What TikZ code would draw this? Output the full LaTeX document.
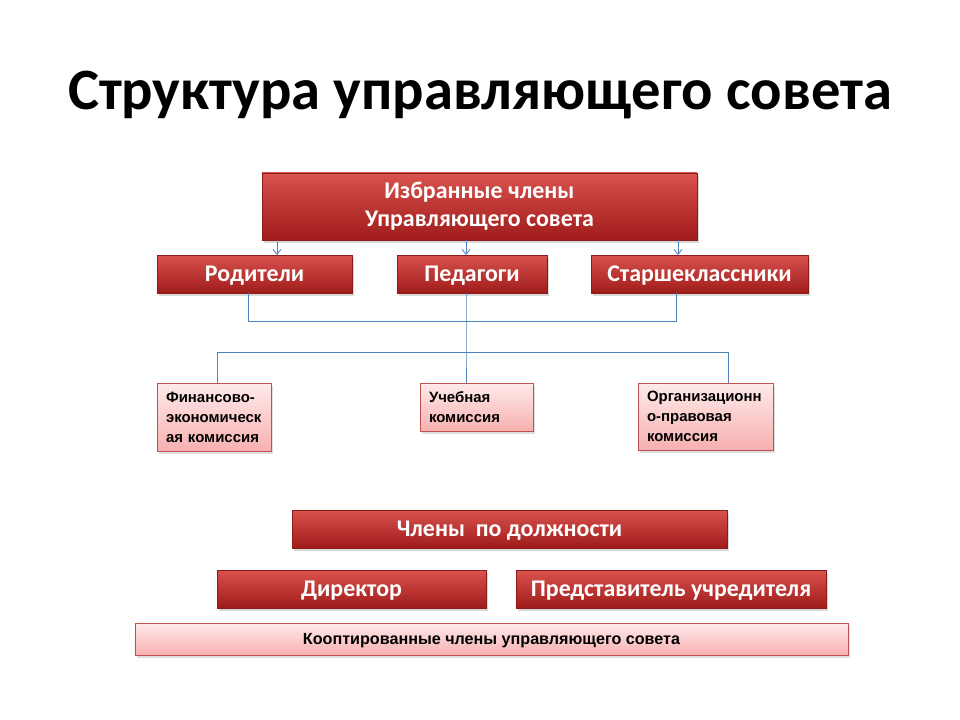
\documentclass[tikz,border=0pt]{standalone}
\usepackage{fontspec}
\setmainfont{Carlito}
\newfontfamily\smallfont{Liberation Sans}
\usetikzlibrary{shadows,arrows.meta}
\definecolor{redtop}{RGB}{216,82,78}
\definecolor{redmid}{RGB}{194,46,42}
\definecolor{redbot}{RGB}{160,28,26}
\definecolor{redline}{RGB}{140,28,26}
\definecolor{pinktop}{RGB}{255,234,234}
\definecolor{pinkbot}{RGB}{247,176,176}
\definecolor{pinkline}{RGB}{192,80,77}
\definecolor{linkblue}{RGB}{79,129,189}
\tikzset{
  redbox/.style={draw=redline, line width=0.6bp, top color=redtop, middle color=redmid, bottom color=redbot,
    text=white, inner sep=0pt, font=\fontsize{24}{28}\selectfont\bfseries,
    drop shadow={shadow xshift=2bp, shadow yshift=-3bp, opacity=0.3}},
  oneline/.style={text height=15.5bp, text depth=0bp},
  pinkbox/.style={draw=pinkline, line width=0.6bp, top color=pinktop, bottom color=pinkbot,
    text=black, inner sep=0pt,
    drop shadow={shadow xshift=2bp, shadow yshift=-3bp, opacity=0.25}},
  smalltext/.style={font=\smallfont\fontsize{15}{20}\selectfont\bfseries, align=left},
  link/.style={draw=linkblue, line width=0.8bp},
  arr/.style={link, -{Straight Barb[length=5bp, width=8bp]}}
}
\begin{document}
\begin{tikzpicture}[x=1bp, y=-1bp]
		%%%%% START %%%%%
		\useasboundingbox[fill=white] (0,0) rectangle (960,720);
		
		\node (title) at (480,95) {\fontsize{58.8}{62}\selectfont\bfseries Структура управляющего совета};
		
		\node[redbox, minimum width=435bp, minimum height=67bp, align=center] (top) at (479.5,206.5)
			{Избранные члены\\Управляющего совета};
		
		\node[redbox, oneline, minimum width=195bp, minimum height=38bp] (par) at (254.5,274) {Родители};
		\node[redbox, oneline, minimum width=150bp, minimum height=38bp] (ped) at (472,274) {Педагоги};
		\node[redbox, oneline, minimum width=217bp, minimum height=38bp] (stu) at (699.5,274) {Старшеклассники};
		
		\coordinate (a1) at (277,255);
		\coordinate (a2) at (466,255);
		\coordinate (a3) at (678,255);
		\draw[arr] (top.south -| a1) -- (a1);
		\draw[arr] (top.south -| a2) -- (a2);
		\draw[arr] (top.south -| a3) -- (a3);
		
		\node[pinkbox, smalltext, minimum width=114bp, minimum height=68bp, text width=96bp] (fin) at (214,417)
			{Финансово-\\экономическ\\ая комиссия};
		\node[pinkbox, smalltext, minimum width=113bp, minimum height=48bp, text width=95bp] (ucb) at (476.5,407)
			{Учебная\\комиссия};
		\node[pinkbox, smalltext, minimum width=135bp, minimum height=67bp, text width=117bp] (org) at (705.5,416.5)
			{Организационн\\о-правовая\\комиссия};
		
		\coordinate (j1) at (248,321);
		\coordinate (j2) at (676,321);
		\coordinate (j3) at (466,352);
		\coordinate (k1) at (217,352);
		\coordinate (k3) at (728,352);
		\draw[link] (par.south -| j1) -- (j1) -- (j2) -- (stu.south -| j2);
		\draw[link] (ped.south -| j3) -- (j3) -- (ucb.north -| j3);
		\draw[link] (fin.north -| k1) -- (k1) -- (k3) -- (org.north -| k3);
		
		\node[redbox, oneline, minimum width=435bp, minimum height=38bp] (dol) at (509.5,529) {Члены\ \ по должности};
		\node[redbox, oneline, minimum width=269bp, minimum height=38bp] (dir) at (351.5,589) {Директор};
		\node[redbox, oneline, minimum width=310bp, minimum height=38bp] (rep) at (671,589) {Представитель учредителя};
		
		\node[pinkbox, oneline, minimum width=713bp, minimum height=32bp, text height=11bp,
			font=\smallfont\fontsize{16.2}{18}\selectfont\bfseries] (koop) at (491.5,639)
			{Кооптированные члены управляющего совета};
		%%%%% END %%%%%
\end{tikzpicture}
\end{document}
